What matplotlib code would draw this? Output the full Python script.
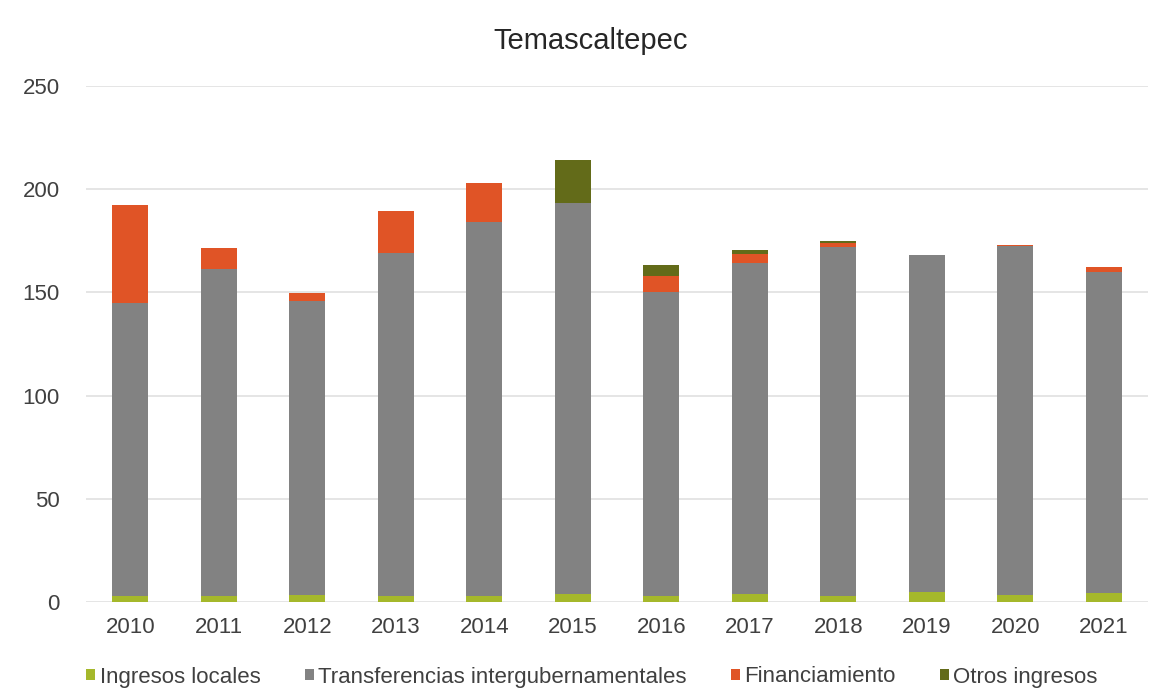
import numpy as np
import matplotlib
matplotlib.use("Agg")
import matplotlib.pyplot as plt

plt.rcParams['font.family'] = ['Liberation Sans', 'DejaVu Sans']

years = ["2010", "2011", "2012", "2013", "2014", "2015",
         "2016", "2017", "2018", "2019", "2020", "2021"]
ingresos_locales = [3.0, 3.0, 3.5, 3.0, 3.0, 4.0, 3.0, 4.0, 3.0, 5.0, 3.5, 4.5]
transferencias = [142.0, 158.3, 142.5, 166.0, 181.0, 189.2,
                  147.3, 160.1, 168.8, 163.1, 169.1, 155.5]
financiamiento = [47.3, 10.1, 3.9, 20.4, 18.8, 0.0, 7.8, 4.5, 2.0, 0.0, 0.5, 2.5]
otros_ingresos = [0.0, 0.0, 0.0, 0.0, 0.0, 20.9, 5.0, 1.9, 1.2, 0.0, 0.0, 0.0]

series = [
    ("Ingresos locales", ingresos_locales, "#a5b82b"),
    ("Transferencias intergubernamentales", transferencias, "#828282"),
    ("Financiamiento", financiamiento, "#e05426"),
    ("Otros ingresos", otros_ingresos, "#636b19"),
]

fig = plt.figure(figsize=(11.51, 6.92), dpi=100)
ax = fig.add_axes([86 / 1151, 1 - 602 / 692, (1148 - 86) / 1151, (602 - 86) / 692])

x = np.arange(len(years))
bottom = np.zeros(len(years))
for name, vals, col in series:
    vals = np.array(vals)
    ax.bar(x, vals, width=0.41, bottom=bottom, color=col, label=name, zorder=3)
    bottom += vals

ax.set_xlim(-0.5, len(years) - 0.5)
ax.set_ylim(0, 250)
ax.set_yticks(range(0, 251, 50))
ax.set_xticks(x)
ax.set_xticklabels(years)
ax.yaxis.grid(True, color="#e0e0e0", linewidth=1.2, zorder=0)
for s in ax.spines.values():
    s.set_visible(False)
ax.tick_params(axis="both", length=0, labelsize=16, colors="#404040")
ax.tick_params(axis="x", pad=11)
ax.tick_params(axis="y", pad=19)

fig.text(591 / 1151, 1 - 49 / 692, "Temascaltepec", ha="center", va="baseline",
         fontsize=21, color="#262626")

fig.legend(loc="center", bbox_to_anchor=(592 / 1151, 1 - 677 / 692), ncol=4,
           frameon=False, fontsize=16, handlelength=0.4, handleheight=0.4,
           handletextpad=0.2, columnspacing=2.0, labelcolor="#404040")

fig.savefig("out.png", dpi=100)
